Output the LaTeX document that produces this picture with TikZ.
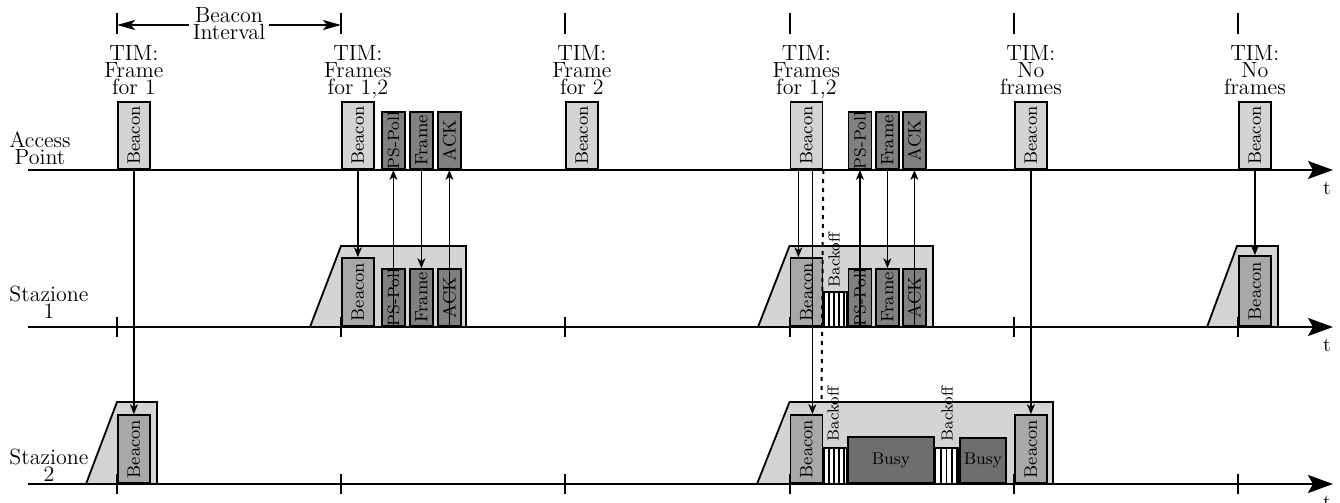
\documentclass[tikz,border=0pt]{standalone}
\usepackage{fontspec}
\usetikzlibrary{arrows.meta}
\definecolor{lgray}{gray}{0.83}
\definecolor{mgray}{gray}{0.66}
\definecolor{dgray}{gray}{0.50}
\definecolor{bgray}{gray}{0.43}
\tikzset{
  axisline/.style={line width=1pt,-{Stealth[length=12.5pt,width=9pt,inset=2.5pt]}},
  ticmark/.style={line width=1pt},
  conn/.style={line width=0.65pt,-{Stealth[length=5pt,width=4pt,inset=1.5pt]}},
  biarrow/.style={line width=1pt,{Stealth[length=9pt,width=5pt,inset=2pt]}-{Stealth[length=9pt,width=5pt,inset=2pt]}},
  dotline/.style={line width=1pt,dash pattern=on 2pt off 2.5pt},
  frame box/.style={draw,line width=0.9pt,inner sep=0pt,anchor=south west},
  apbeacon/.style={frame box,fill=lgray,minimum width=16pt,minimum height=33.5pt,font=\fontsize{9}{10}\selectfont},
  stbeacon/.style={frame box,fill=mgray,minimum width=16pt,minimum height=34pt,font=\fontsize{9}{10}\selectfont},
  pkt/.style={frame box,fill=dgray,minimum width=11.5pt,minimum height=28.5pt,font=\fontsize{9}{10}\selectfont},
  pspkt/.style={pkt,font=\fontsize{8.2}{9}\selectfont},
  busybox/.style={frame box,fill=bgray,font=\fontsize{8.5}{10}\selectfont},
  trap/.style={draw,line width=0.9pt,fill=lgray},
  hatchbox/.style={draw,line width=0.9pt,fill=white},
  hatchline/.style={line width=0.7pt},
  lbl/.style={font=\fontsize{11}{8.5}\selectfont,align=center,inner sep=0pt,text depth=0pt,anchor=south},
  backoff/.style={inner sep=0pt,font=\fontsize{8}{9}\selectfont},
  tlab/.style={inner sep=0pt,anchor=north,font=\fontsize{10}{12}\selectfont},
}
\begin{document}
\begin{tikzpicture}[x=0.5pt,y=-0.5pt]
\useasboundingbox (0,0) rectangle (1340,503);

% trapezoids (listening windows)
\draw[trap] (310,327) -- (341,246) -- (466,246) -- (466,327) -- cycle;
\draw[trap] (758,327) -- (789.5,246) -- (933,246) -- (933,327) -- cycle;
\draw[trap] (1207,327) -- (1237,246) -- (1278,246) -- (1278,327) -- cycle;
\draw[trap] (86,484) -- (117,402) -- (157,402) -- (157,484) -- cycle;
\draw[trap] (757,484) -- (789.5,402) -- (1053,402) -- (1053,484) -- cycle;

% time axes
\draw[axisline] (28,170) -- (1333,170);
\draw[axisline] (28,327) -- (1333,327);
\draw[axisline] (28,484) -- (1333,484);
\node[tlab] (t1) at (1327,182) {t};
\node[tlab] (t2) at (1327,339) {t};
\node[tlab] (t3) at (1327,496) {t};

% ticks
\foreach \x in {117,341,565,789.5,1014,1238}{
  \draw[ticmark] (\x,13) -- (\x,34);
  \draw[ticmark] (\x,317) -- (\x,337);
  \draw[ticmark] (\x,474) -- (\x,494);
}

% beacon interval
\draw[biarrow] (117,25) -- (341,25);
\node[lbl,fill=white,inner xsep=2pt] (bi) at (229,40) {Beacon\\Interval};

% station labels
\node[lbl] (lap) at (40,165) {Access\\Point};
\node[lbl] (ls1) at (49,319) {Stazione\\1};
\node[lbl] (ls2) at (49,482) {Stazione\\2};

% hatched backoff areas
\draw[hatchbox] (821,292) rectangle (847,327);
\foreach \x in {824,829,834,839,844} \draw[hatchline] (\x,292) -- (\x,327);
\draw[hatchbox] (821,448) rectangle (847,484);
\foreach \x in {824,829,834,839,844} \draw[hatchline] (\x,448) -- (\x,484);
\draw[hatchbox] (933,448) rectangle (959,484);
\foreach \x in {935.5,941,946.5,952,957} \draw[hatchline] (\x,448) -- (\x,484);

% access point frames
\node[apbeacon] (ap1) at (117,170) {\rotatebox{90}{Beacon}};
\node[apbeacon] (ap2) at (341,170) {\rotatebox{90}{Beacon}};
\node[pspkt] (appp2) at (381,170) {\rotatebox{90}{PS-Poll}};
\node[pkt] (apfr2) at (409,170) {\rotatebox{90}{Frame}};
\node[pkt] (apack2) at (437,170) {\rotatebox{90}{ACK}};
\node[apbeacon] (ap3) at (565,170) {\rotatebox{90}{Beacon}};
\node[apbeacon] (ap4) at (789.5,170) {\rotatebox{90}{Beacon}};
\node[pspkt] (appp4) at (847.5,170) {\rotatebox{90}{PS-Poll}};
\node[pkt] (apfr4) at (875,170) {\rotatebox{90}{Frame}};
\node[pkt] (apack4) at (902,170) {\rotatebox{90}{ACK}};
\node[apbeacon] (ap5) at (1014,170) {\rotatebox{90}{Beacon}};
\node[apbeacon] (ap6) at (1238,170) {\rotatebox{90}{Beacon}};

% TIM labels
\node[lbl] (tim1) at ([yshift=3pt]ap1.north) {TIM:\\Frame\\for 1};
\node[lbl] (tim2) at ([yshift=3pt]ap2.north) {TIM:\\Frames\\for 1,2};
\node[lbl] (tim3) at ([yshift=3pt]ap3.north) {TIM:\\Frame\\for 2};
\node[lbl] (tim4) at ([yshift=3pt]ap4.north) {TIM:\\Frames\\for 1,2};
\node[lbl] (tim5) at ([yshift=3pt]ap5.north) {TIM:\\No\\frames};
\node[lbl] (tim6) at ([yshift=3pt]ap6.north) {TIM:\\No\\frames};

% station 1 frames
\node[stbeacon] (s1b2) at (341,327) {\rotatebox{90}{Beacon}};
\node[pspkt] (s1pp2) at (381,327) {\rotatebox{90}{PS-Poll}};
\node[pkt] (s1fr2) at (409,327) {\rotatebox{90}{Frame}};
\node[pkt] (s1ack2) at (437,327) {\rotatebox{90}{ACK}};
\node[stbeacon] (s1b4) at (789.5,327) {\rotatebox{90}{Beacon}};
\node[pspkt] (s1pp4) at (847.5,327) {\rotatebox{90}{PS-Poll}};
\node[pkt] (s1fr4) at (875,327) {\rotatebox{90}{Frame}};
\node[pkt] (s1ack4) at (902,327) {\rotatebox{90}{ACK}};
\node[stbeacon,minimum height=35pt] (s1b6) at (1238,327) {\rotatebox{90}{Beacon}};

% station 2 frames
\node[stbeacon] (s2b1) at (117,484) {\rotatebox{90}{Beacon}};
\node[stbeacon] (s2b4) at (789.5,484) {\rotatebox{90}{Beacon}};
\node[busybox,minimum width=43pt,minimum height=23pt] (busy1) at (847,484) {Busy};
\node[busybox,minimum width=23pt,minimum height=22.5pt] (busy2) at (959,484) {Busy};
\node[stbeacon] (s2b5) at (1014,484) {\rotatebox{90}{Beacon}};

% backoff labels
\node[backoff] (bo1) at (834,260) {\rotatebox{90}{Backoff}};
\node[backoff] (bo2) at (833,414) {\rotatebox{90}{Backoff}};
\node[backoff] (bo3) at (947,414) {\rotatebox{90}{Backoff}};

% connectors
\draw[conn] (ap1.south) -- (s2b1.north);
\draw[conn] (ap2.south) -- (s1b2.north);
\draw[conn] (s1pp2.south) -- (appp2.south);
\draw[conn] (apfr2.south) -- (s1fr2.north);
\draw[conn] (s1ack2.south) -- (apack2.south);
\draw[conn] ([xshift=-4pt]ap4.south) -- ([xshift=-4pt]s1b4.north);
\draw[conn] ([xshift=3pt]ap4.south) -- ([xshift=3pt]s2b4.north);
\draw[conn] (s1pp4.south) -- (appp4.south);
\draw[conn] (apfr4.south) -- (s1fr4.north);
\draw[conn] (s1ack4.south) -- (apack4.south);
\draw[conn] (ap5.south) -- (s2b5.north);
\draw[conn] (ap6.south) -- (s1b6.north);

% dotted marker
\coordinate (dotend) at (821.5,402);
\draw[dotline] (ap4.south east) -- (dotend);
\end{tikzpicture}
\end{document}
